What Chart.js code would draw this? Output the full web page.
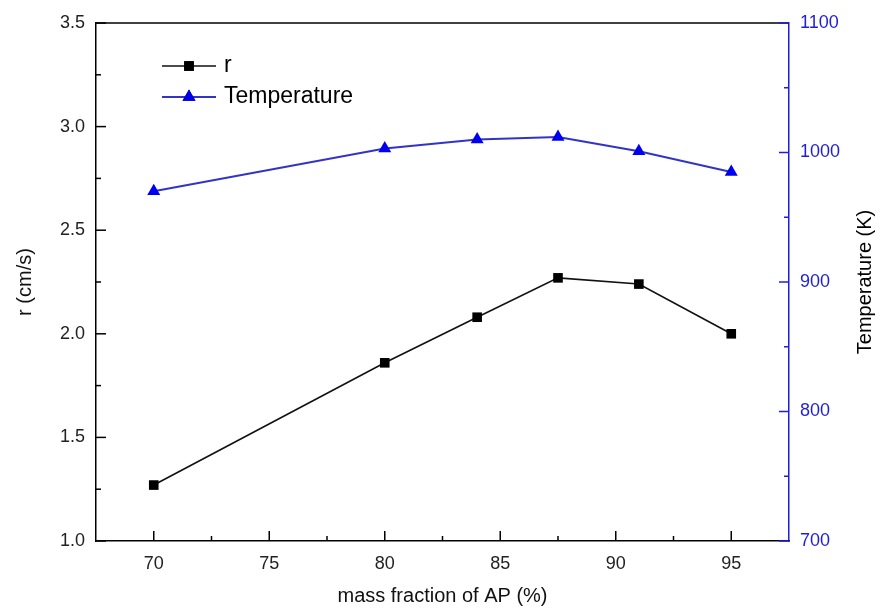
<!DOCTYPE html>
<html>
<head>
<meta charset="utf-8">
<script src="https://cdn.jsdelivr.net/npm/chart.js@4.4.1/dist/chart.umd.min.js"></script>
<style>
    html, body { margin: 0; padding: 0; background: #ffffff; }
    #wrap { width: 881px; height: 610px; position: relative; }
</style>
</head>
<body>
<div id="wrap"><canvas id="chart" width="881" height="610"></canvas></div>
<script>
// Data
const massFraction = [70, 80, 84, 87.5, 91, 95];
const burnRate = [1.27, 1.86, 2.08, 2.27, 2.24, 2.00];
const temperature = [970, 1003, 1010, 1012, 1001, 985];

const xTicks = [70, 75, 80, 85, 90, 95];
const xMinorTicks = [72.5, 77.5, 82.5, 87.5, 92.5];
const rTicks = [1.0, 1.5, 2.0, 2.5, 3.0, 3.5];
const rMinorTicks = [1.25, 1.75, 2.25, 2.75, 3.25];
const tTicks = [700, 800, 900, 1000, 1100];
const tMinorTicks = [750, 850, 950, 1050];

const BLUE = '#1f1fd6';
const FONT = 'Arial, "Liberation Sans", sans-serif';

// inward tick marks, top frame line, legend and right axis title
const framePlugin = {
    id: 'frame',
    afterDraw(chart) {
        const ctx = chart.ctx;
        const area = chart.chartArea;
        const xs = chart.scales.x, ys = chart.scales.y, ts = chart.scales.y1;
        ctx.save();
        ctx.lineWidth = 1.5;

        // top frame
        ctx.strokeStyle = '#000';
        ctx.beginPath();
        ctx.moveTo(area.left, area.top);
        ctx.lineTo(area.right, area.top);
        ctx.stroke();

        const tick = (x1, y1, x2, y2, color) => {
            ctx.strokeStyle = color;
            ctx.beginPath();
            ctx.moveTo(x1, y1);
            ctx.lineTo(x2, y2);
            ctx.stroke();
        };

        xTicks.forEach(v => { const p = xs.getPixelForValue(v); tick(p, area.bottom, p, area.bottom - 10, '#000'); });
        xMinorTicks.forEach(v => { const p = xs.getPixelForValue(v); tick(p, area.bottom, p, area.bottom - 5, '#000'); });
        rTicks.forEach(v => { const p = ys.getPixelForValue(v); tick(area.left, p, area.left + 10, p, '#000'); });
        rMinorTicks.forEach(v => { const p = ys.getPixelForValue(v); tick(area.left, p, area.left + 5, p, '#000'); });
        tTicks.forEach(v => { const p = ts.getPixelForValue(v); tick(area.right, p, area.right - 10, p, BLUE); });
        tMinorTicks.forEach(v => { const p = ts.getPixelForValue(v); tick(area.right, p, area.right - 5, p, BLUE); });

        // legend
        const rows = [{ y: 66 }, { y: 97 }];
        chart.data.datasets.forEach((ds, i) => {
            const y = rows[i].y;
            ctx.strokeStyle = ds.borderColor;
            ctx.lineWidth = ds.borderWidth;
            ctx.beginPath();
            ctx.moveTo(162, y);
            ctx.lineTo(216, y);
            ctx.stroke();
            Chart.helpers.drawPoint(ctx, {
                pointStyle: ds.pointStyle,
                radius: ds.pointRadius,
                borderWidth: 0
            }, 189, y);
            ctx.fillStyle = ds.pointBackgroundColor;
            ctx.fill();
            ctx.fillStyle = '#000';
            ctx.font = '23px ' + FONT;
            ctx.textBaseline = 'middle';
            ctx.textAlign = 'left';
            ctx.fillText(ds.label, 224, y);
        });

        // right axis title, reading bottom to top
        ctx.translate(865, (area.top + area.bottom) / 2);
        ctx.rotate(-Math.PI / 2);
        ctx.fillStyle = '#000';
        ctx.font = '20px ' + FONT;
        ctx.textAlign = 'center';
        ctx.textBaseline = 'middle';
        ctx.fillText('Temperature (K)', 0, 0);
        ctx.restore();
    }
};

const ctx = document.getElementById('chart');
new Chart(ctx, {
    type: 'line',
    data: {
        datasets: [{
            label: 'r',
            data: massFraction.map((x, i) => ({ x: x, y: burnRate[i] })),
            yAxisID: 'y',
            borderColor: '#111',
            borderWidth: 1.6,
            pointStyle: 'rect',
            pointRadius: 6.8,
            pointBackgroundColor: '#000',
            pointBorderWidth: 0
        }, {
            label: 'Temperature',
            data: massFraction.map((x, i) => ({ x: x, y: temperature[i] })),
            yAxisID: 'y1',
            borderColor: '#3333c8',
            borderWidth: 2,
            pointStyle: 'triangle',
            pointRadius: 7.5,
            pointBackgroundColor: '#0000f0',
            pointBorderWidth: 0
        }]
    },
    options: {
        responsive: false,
        animation: false,
        layout: { padding: { top: 23, left: 0, right: 0, bottom: 0 } },
        plugins: {
            legend: { display: false },
            tooltip: { enabled: false }
        },
        scales: {
            x: {
                type: 'linear',
                min: 67.5,
                max: 97.5,
                afterBuildTicks: scale => { scale.ticks = xTicks.map(v => ({ value: v })); },
                afterFit: scale => { scale.height = 69; },
                grid: { drawOnChartArea: false, drawTicks: false },
                border: { display: true, color: '#000', width: 1.5 },
                ticks: { color: '#222', padding: 12, font: { family: FONT, size: 18 }, callback: v => String(v) },
                title: {
                    display: true,
                    text: 'mass fraction of AP (%)',
                    color: '#111',
                    font: { family: FONT, size: 20 },
                    padding: { top: 0, bottom: 2 }
                }
            },
            y: {
                position: 'left',
                min: 1.0,
                max: 3.5,
                afterBuildTicks: scale => { scale.ticks = rTicks.map(v => ({ value: v })); },
                afterFit: scale => { scale.width = 96; },
                grid: { drawOnChartArea: false, drawTicks: false },
                border: { display: true, color: '#000', width: 1.5 },
                ticks: {
                    color: '#222',
                    padding: 11,
                    font: { family: FONT, size: 18 },
                    callback: v => v.toFixed(1)
                },
                title: {
                    display: true,
                    text: 'r (cm/s)',
                    color: '#111',
                    font: { family: FONT, size: 20 },
                    padding: { top: 13, bottom: 0 }
                }
            },
            y1: {
                position: 'right',
                min: 700,
                max: 1100,
                afterBuildTicks: scale => { scale.ticks = tTicks.map(v => ({ value: v })); },
                afterFit: scale => { scale.width = 92; },
                grid: { drawOnChartArea: false, drawTicks: false },
                border: { display: true, color: BLUE, width: 1.5 },
                ticks: { color: BLUE, padding: 11, font: { family: FONT, size: 18 }, callback: v => String(v) }
            }
        }
    },
    plugins: [framePlugin]
});
</script>
</body>
</html>
